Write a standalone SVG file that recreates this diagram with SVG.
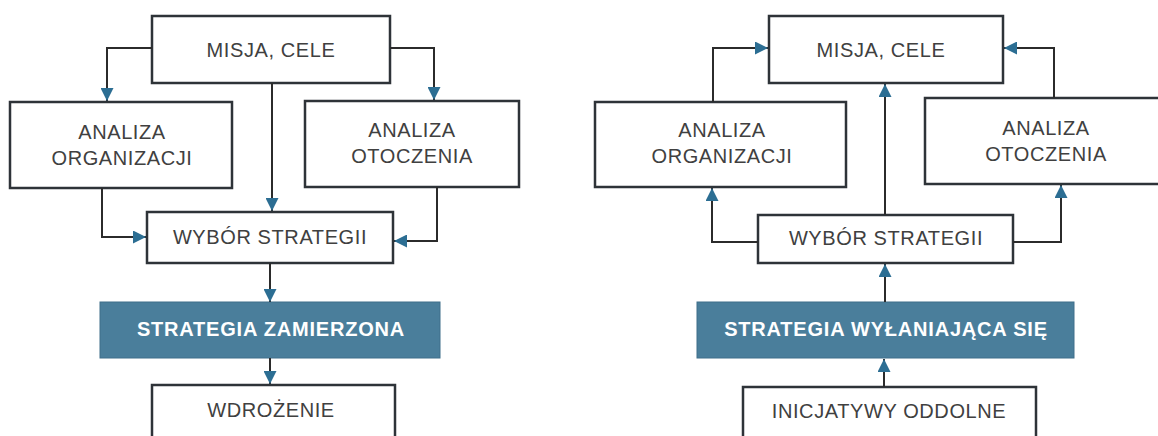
<svg xmlns="http://www.w3.org/2000/svg" width="1158" height="436" viewBox="0 0 1158 436">
<style>
.box{fill:#fff;stroke:#2e3338;stroke-width:2.5}
.sbox{fill:#4a7e9b;stroke:#3f6f8a;stroke-width:1}
.t{font-family:"Liberation Sans",Arial,sans-serif;font-size:20px;fill:#404040;text-anchor:middle;letter-spacing:0.6px}
.tb{font-family:"Liberation Sans",Arial,sans-serif;font-size:20px;font-weight:bold;fill:#fff;text-anchor:middle;letter-spacing:0.8px}
.c{fill:none;stroke:#2b2b2b;stroke-width:2;marker-end:url(#ah)}
</style>
<defs>
<marker id="ah" viewBox="0 0 13 13" refX="13" refY="6.5" markerWidth="13" markerHeight="13" markerUnits="userSpaceOnUse" orient="auto">
<path d="M0,0 L13,6.5 L0,13 z" fill="#2c6e93"/>
</marker>
</defs>
<rect width="1158" height="436" fill="#fff"/>
<g id="L-misja"><rect class="box" x="152" y="16" width="238" height="67"/><text class="t" x="271" y="57">MISJA, CELE</text></g>
<g id="L-org"><rect class="box" x="10" y="102" width="222" height="86"/><text class="t" x="122" y="139">ANALIZA</text><text class="t" x="122" y="165">ORGANIZACJI</text></g>
<g id="L-oto"><rect class="box" x="305" y="101" width="214" height="86"/><text class="t" x="412" y="137">ANALIZA</text><text class="t" x="412" y="163">OTOCZENIA</text></g>
<g id="L-wybor"><rect class="box" x="147" y="212" width="246" height="51"/><text class="t" x="270" y="244">WYBÓR STRATEGII</text></g>
<g id="L-strat"><rect class="sbox" x="100" y="302" width="340" height="56"/><text class="tb" x="271" y="336">STRATEGIA ZAMIERZONA</text></g>
<g id="L-wdr"><rect class="box" x="152" y="385" width="243" height="70"/><text class="t" x="271" y="417">WDROŻENIE</text></g>
<g id="R-misja"><rect class="box" x="769" y="16" width="234" height="67"/><text class="t" x="881" y="57">MISJA, CELE</text></g>
<g id="R-org"><rect class="box" x="595" y="102" width="251" height="85"/><text class="t" x="722" y="137">ANALIZA</text><text class="t" x="722" y="163">ORGANIZACJI</text></g>
<g id="R-oto"><rect class="box" x="925" y="98" width="245" height="86"/><text class="t" x="1046" y="135">ANALIZA</text><text class="t" x="1046" y="161">OTOCZENIA</text></g>
<g id="R-wybor"><rect class="box" x="758" y="215" width="255" height="48"/><text class="t" x="886" y="245">WYBÓR STRATEGII</text></g>
<g id="R-strat"><rect class="sbox" x="697" y="302" width="377" height="56"/><text class="tb" x="886" y="336">STRATEGIA WYŁANIAJĄCA SIĘ</text></g>
<g id="R-inic"><rect class="box" x="743" y="387" width="293" height="70"/><text class="t" x="889" y="418">INICJATYWY ODDOLNE</text></g>
<g id="connectors">
<path class="c" d="M152,48 H107 V101"/>
<path class="c" d="M390,48 H434 V100"/>
<path class="c" d="M272,83 V211"/>
<path class="c" d="M102,188 V237 H146"/>
<path class="c" d="M437,187 V241 H394"/>
<path class="c" d="M270,263 V302"/>
<path class="c" d="M270,358 V384"/>
<path class="c" d="M713,102 V48 H768"/>
<path class="c" d="M1054,98 V48 H1004"/>
<path class="c" d="M885,215 V84"/>
<path class="c" d="M758,242 H712 V188"/>
<path class="c" d="M1013,242 H1061 V185"/>
<path class="c" d="M885,302 V264"/>
<path class="c" d="M884,387 V359"/>
</g>
</svg>
